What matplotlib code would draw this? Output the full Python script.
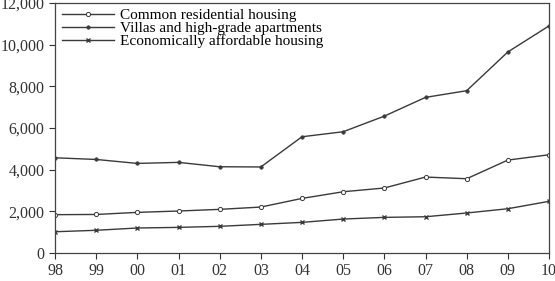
import matplotlib.pyplot as plt

years = ["98", "99", "00", "01", "02", "03", "04", "05", "06", "07", "08", "09", "10"]
common = [1840, 1850, 1950, 2015, 2095, 2205, 2620, 2940, 3120, 3645, 3565, 4460, 4715]
villas = [4570, 4490, 4300, 4350, 4140, 4130, 5580, 5820, 6570, 7470, 7790, 9650, 10900]
affordable = [1020, 1090, 1200, 1230, 1280, 1375, 1470, 1630, 1710, 1740, 1920, 2125, 2480]

plt.rcParams["font.family"] = "Liberation Serif"

fig = plt.figure(figsize=(5.55, 2.81), dpi=100)
ax = fig.add_axes([55 / 555, 28 / 281, 494 / 555, 250 / 281])

x = list(range(len(years)))
col = "#3a3a3a"
ax.plot(x, common, color=col, lw=1, marker="o", ms=3, mfc="white", mew=0.7,
        label="Common residential housing")
ax.plot(x, villas, color=col, lw=1, marker="o", ms=2.5, mfc=col, mew=0.5,
        label="Villas and high-grade apartments")
ax.plot(x, affordable, color=col, lw=1, marker="x", ms=3.5, mew=1,
        label="Economically affordable housing")

ax.set_xlim(0, len(years) - 1)
ax.set_ylim(0, 12000)
ax.set_xticks(x)
ax.set_xticklabels(years)
ax.set_yticks(range(0, 12001, 2000))
ax.set_yticklabels([f"{v:,}" for v in range(0, 12001, 2000)])
ax.tick_params(direction="out", length=4, width=0.8, labelsize=11.5, colors="#333333")
for s in ax.spines.values():
    s.set_color("#444444")
    s.set_linewidth(0.9)

ax.legend(loc="upper left", frameon=False, fontsize=11, handlelength=3.4,
          labelspacing=-0.05, borderaxespad=0.2, handletextpad=0.4,
          bbox_to_anchor=(-0.005, 1.015))

fig.savefig("out.png", dpi=100)
